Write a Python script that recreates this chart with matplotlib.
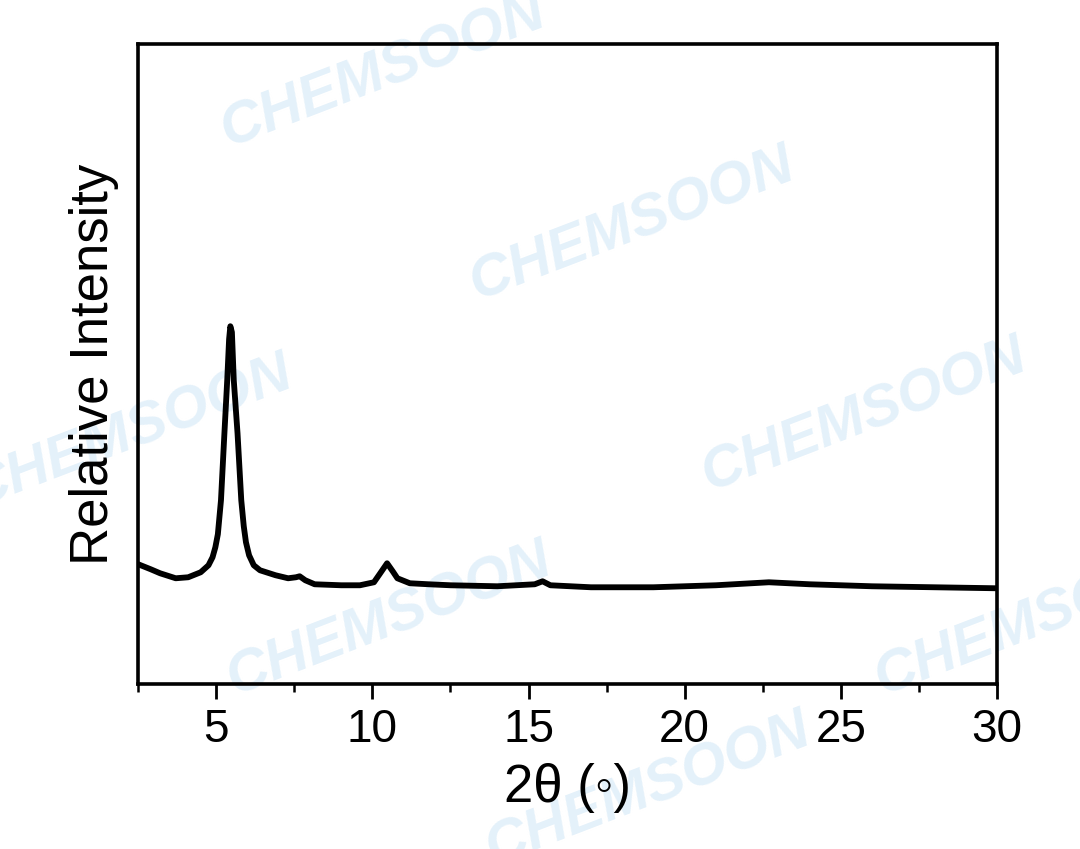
import numpy as np
import matplotlib
matplotlib.use('Agg')
import matplotlib.pyplot as plt
from matplotlib.ticker import MultipleLocator

plt.rcParams['font.family'] = ['Liberation Sans', 'DejaVu Sans']

# XRD pattern (2theta in degrees, intensity in arbitrary units)
two_theta = [2.5, 2.9, 3.2, 3.7, 4.1, 4.5, 4.75, 4.88, 4.97, 5.05, 5.15, 5.26, 5.35,
             5.41, 5.45, 5.5, 5.56, 5.68, 5.8, 5.88, 5.95, 6.05, 6.2, 6.4, 6.9, 7.3,
             7.55, 7.67, 7.85, 8.15, 9.0, 9.6, 10.05, 10.25, 10.47, 10.65, 10.8,
             11.2, 11.8, 12.5, 14.0, 15.2, 15.45, 15.7, 17.0, 19.0, 21.0, 22.7,
             24.0, 26.0, 28.0, 30.0]
intensity = [120, 115, 111, 106, 107, 112, 119, 127, 137, 150, 184, 251, 304,
             345, 358, 352, 304, 251, 184, 158, 142, 129, 119, 114, 109, 106,
             107, 108, 104, 100, 99, 99, 102, 111, 121, 113, 106,
             101, 100, 99, 98, 100, 103, 99, 97, 97, 99, 102,
             100, 98, 97, 96]

watermark = 'CHEMSOON'
wm_pos = [(0.355, 0.915), (0.585, 0.735), (0.80, 0.51), (0.12, 0.49),
          (0.36, 0.27), (0.60, 0.07), (0.96, 0.27)]

fig = plt.figure(figsize=(10.8, 8.49), dpi=100)
for (wx, wy) in wm_pos:
    fig.text(wx, wy, watermark, color='#e4f1fa', fontsize=42, fontweight='bold',
             style='italic', rotation=21, ha='center', va='center', zorder=-1)

ax = fig.add_axes([0.128, 0.194, 0.795, 0.754])
ax.patch.set_alpha(0)
ax.plot(two_theta, intensity, color='black', lw=4.2, solid_joinstyle='round',
        solid_capstyle='round')

ax.set_xlim(2.5, 30)
ax.set_ylim(0, 640)
ax.xaxis.set_major_locator(MultipleLocator(5))
ax.xaxis.set_minor_locator(MultipleLocator(2.5))
ax.set_yticks([])
ax.tick_params(axis='x', which='major', direction='out', length=11, width=2,
               labelsize=33, pad=6)
ax.tick_params(axis='x', which='minor', direction='out', length=6, width=1.8)
for s in ax.spines.values():
    s.set_linewidth(2.6)

ax.set_xlabel('2θ (◦)', fontsize=38, labelpad=8)
ax.set_ylabel('Relative Intensity', fontsize=38, labelpad=14)

fig.savefig('out.png', dpi=100)
